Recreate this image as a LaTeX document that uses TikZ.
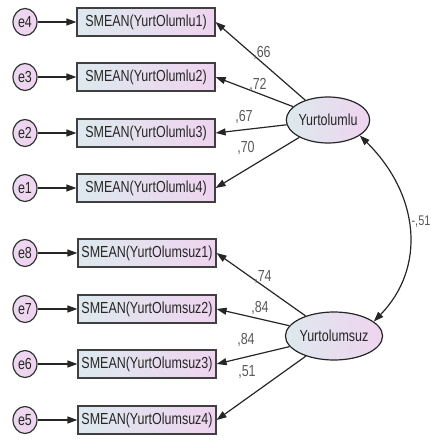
\documentclass[tikz,border=0pt]{standalone}
\usepackage{fontspec}
\setmainfont{Liberation Sans}[FakeStretch=0.78]
\usepackage{tikz}
\usetikzlibrary{
	arrows.meta,
	positioning,
	shapes.geometric,
}
\definecolor{fillblue}{HTML}{DDE9EE}
\definecolor{fillpink}{HTML}{EFD4EF}
\definecolor{inkgray}{HTML}{262626}
\tikzset{obs node/.style={draw=black!75,rectangle,inner sep=0mm,minimum width=138pt,minimum height=28pt,left color=fillblue,right color=fillpink,text=inkgray,font=\fontsize{16pt}{18pt}\selectfont,}}
\tikzset{err node/.style={draw=black!80,ellipse,inner sep=0mm,minimum width=24pt,minimum height=27pt,left color=fillpink!85!fillblue,right color=fillpink,text=inkgray,font=\fontsize{16pt}{18pt}\selectfont,}}
\tikzset{lat node/.style={draw=black!85,ellipse,inner sep=0mm,left color=fillblue,right color=fillpink,text=inkgray,font=\fontsize{16pt}{18pt}\selectfont,}}
\tikzset{coef/.style={text=black!65,inner sep=0mm,font=\fontsize{16pt}{18pt}\selectfont,}}
\tikzset{
	>={Triangle[length=10pt,width=7pt]},
	x=1pt,
	y=-1pt,
}

\begin{document}
\begin{tikzpicture}[line width=1.2pt, draw=black!85]

\useasboundingbox (0,0) rectangle (431,442);

% latent variables
\node[lat node, minimum width=82pt, minimum height=46pt](olumlu) at(328,120){Yurtolumlu};
\node[lat node, minimum width=95pt, minimum height=48pt](olumsuz) at(334,336){Yurtolumsuz};

% Yurtolumlu items
\foreach \n/\e/\y/\lx/\ly/\w in {1/4/22/262/53/66, 2/3/77/258/85/72, 3/2/133/244/117/67, 4/1/188/246/148/70}{
	\node[obs node](pos\n) at(146,\y){SMEAN(YurtOlumlu\n)};
	\node[err node](e\e) at(25,\y){e\e};
	\draw[->] (e\e) -- (pos\n);
	\draw[->] (olumlu) -- (pos\n.east);
	\node[coef](wpos\n) at(\lx,\ly){,\w};
}

% Yurtolumsuz items
\foreach \n/\e/\y/\lx/\ly/\w in {1/8/253/263/277/74, 2/7/309/260/308/84, 3/6/364/246/340/84, 4/5/420/247/372/51}{
	\node[obs node](neg\n) at(147,\y){SMEAN(YurtOlumsuz\n)};
	\node[err node](e\e) at(25,\y){e\e};
	\draw[->] (e\e) -- (neg\n);
	\draw[->] (olumsuz) -- (neg\n.east);
	\node[coef](wneg\n) at(\lx,\ly){,\w};
}

% covariance
\draw[<->] (olumlu.-26) .. controls (420,195) and (426,268) .. (olumsuz.20);
\node[coef, anchor=east, font=\fontsize{14pt}{16pt}\selectfont](cov) at(431,222){-,51};

\end{tikzpicture}
\end{document}
